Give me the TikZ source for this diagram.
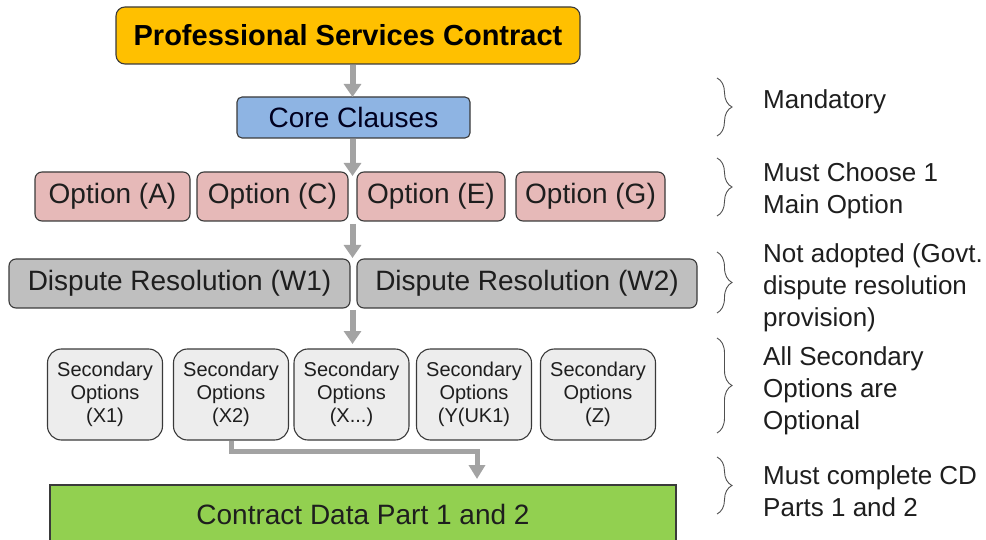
\documentclass[tikz,border=0pt]{standalone}
\usepackage{fontspec}
\setmainfont{Liberation Sans}
\usetikzlibrary{arrows.meta,decorations.pathreplacing,calc}
\definecolor{ttl}{HTML}{FFC000}
\definecolor{corec}{HTML}{8EB4E3}
\definecolor{optc}{HTML}{E6B9B8}
\definecolor{dispc}{HTML}{BFBFBF}
\definecolor{secc}{HTML}{EDEDED}
\definecolor{cdc}{HTML}{92D050}
\definecolor{arrc}{HTML}{A3A3A3}
\definecolor{edgec}{HTML}{3A3A3A}
\definecolor{txtc}{HTML}{1E1E1E}
\definecolor{brc}{HTML}{505050}
\begin{document}
\begin{tikzpicture}[x=1pt,y=-1pt,
  box/.style={draw=edgec,line width=1.1pt,text=txtc,inner sep=0pt,align=center,
    font=\fontsize{28}{30}\selectfont},
  optbox/.style={box,fill=optc,rounded corners=7pt,minimum height=49pt},
  dispbox/.style={box,fill=dispc,rounded corners=7pt,minimum height=49pt},
  secbox/.style={box,fill=secc,rounded corners=14pt,minimum width=115pt,minimum height=91pt,
    font=\fontsize{20}{23}\selectfont},
  flow/.style={draw=arrc,line width=6pt,-{Triangle[width=17pt,length=13pt]}},
  flowthin/.style={draw=arrc,line width=5pt,-{Triangle[width=16pt,length=14pt]}},
  brace/.style={draw=brc,line width=0.9pt,decorate,decoration={brace,amplitude=15pt}},
  note/.style={anchor=west,align=left,text=txtc,inner sep=0pt,font=\fontsize{26}{32}\selectfont}
]
\useasboundingbox (0,0) rectangle (986,540);

% main boxes
\node[box,fill=ttl,rounded corners=9pt,minimum width=464pt,minimum height=57pt,
  text=black,font=\bfseries\fontsize{29}{30}\selectfont] (title) at (348,35.5) {Professional Services Contract};
\node[box,fill=corec,rounded corners=5pt,minimum width=233pt,minimum height=41pt,text={black!80!blue!60!black}] (core) at (353.5,117.5) {Core Clauses};

\node[optbox,minimum width=155pt] (optA) at (112.5,196.5) {Option (A)};
\node[optbox,minimum width=151pt] (optC) at (272.5,196.5) {Option (C)};
\node[optbox,minimum width=148pt] (optE) at (431,196.5) {Option (E)};
\node[optbox,minimum width=149pt] (optG) at (590.5,196.5) {Option (G)};

\node[dispbox,minimum width=341pt] (w1) at (179.5,283.5) {Dispute Resolution (W1)};
\node[dispbox,minimum width=340pt] (w2) at (527,283.5) {Dispute Resolution (W2)};

\node[secbox] (x1) at (105,394.5) {Secondary\\Options\\(X1)};
\node[secbox] (x2) at (231,394.5) {Secondary\\Options\\(X2)};
\node[secbox] (xd) at (351.5,394.5) {Secondary\\Options\\(X...)};
\node[secbox] (y1) at (474,394.5) {Secondary\\Options\\(Y(UK1)};
\node[secbox] (z1) at (598,394.5) {Secondary\\Options\\(Z)};

\node[box,fill=cdc,minimum width=626pt,minimum height=64pt] (cd) at (363,517) {\raisebox{6pt}{Contract Data Part 1 and 2}};

% connectors
\coordinate (g0) at (352.5,97);
\coordinate (g1) at (352.5,176);
\coordinate (g2) at (352.5,224);
\coordinate (g3) at (352.5,258);
\coordinate (g4) at (352.5,310);
\coordinate (g5) at (352.5,344);
\coordinate (g6) at (477,479);
\draw[flow] (title.south -| g0) -- (g0);
\draw[flow] (core.south -| g1) -- (g1);
\draw[flow] (g2) -- (g3);
\draw[flow] (g4) -- (g5);
\draw[flowthin] (x2.south) -- ($(x2.south)+(0,11)$) -| (g6);

% braces and notes
\coordinate (b1t) at (717,78);  \coordinate (b1b) at (717,136);
\coordinate (b2t) at (717,158); \coordinate (b2b) at (717,216);
\coordinate (b3t) at (717,252); \coordinate (b3b) at (717,313);
\coordinate (b4t) at (717,338); \coordinate (b4b) at (717,433);
\coordinate (b5t) at (717,457); \coordinate (b5b) at (717,514);
\draw[brace] (b1t) -- (b1b);
\draw[brace] (b2t) -- (b2b);
\draw[brace] (b3t) -- (b3b);
\draw[brace] (b4t) -- (b4b);
\draw[brace] (b5t) -- (b5b);

\node[note] (n1) at (763,102) {Mandatory};
\node[note] (n2) at (763,191) {Must Choose 1\\Main Option};
\node[note] (n3) at (763,288) {Not adopted (Govt.\\dispute resolution\\provision)};
\node[note] (n4) at (763,391) {All Secondary\\Options are\\Optional};
\node[note] (n5) at (763,491) {Must complete CD\\Parts 1 and 2};
\end{tikzpicture}
\end{document}
